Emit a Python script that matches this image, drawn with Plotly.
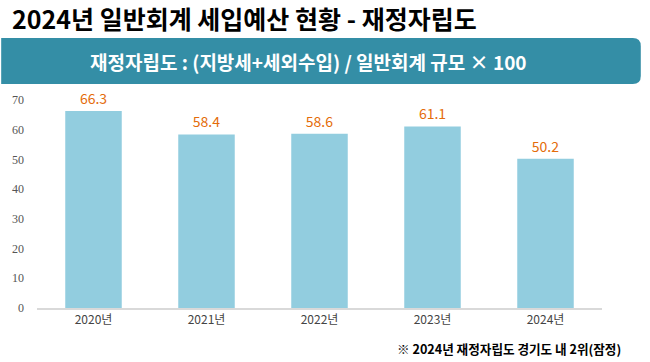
import plotly.graph_objects as go

categories = ["2020년", "2021년", "2022년", "2023년", "2024년"]
values = [66.3, 58.4, 58.6, 61.1, 50.2]
y_ticks = [0, 10, 20, 30, 40, 50, 60, 70]

W, H = 650, 362
L, R, T, B = 34, 48, 100, 54
pw = W - L - R
ph = H - T - B

def px(x):
    return (x - L) / pw

def py(y):
    return (H - B - y) / ph

fig = go.Figure()
fig.add_trace(go.Bar(
    x=categories, y=values,
    marker=dict(color="#92CDDF", line=dict(width=0)),
    text=[f"{v:.1f}" for v in values],
    textposition="outside",
    textfont=dict(color="#E46C0A", size=14, family="Noto Sans CJK KR"),
    cliponaxis=False,
    hoverinfo="skip",
))

# banner with rounded right corners
x0, x1, y0, y1 = px(-2), px(641), py(38), py(84)
rx, ry = 8 / pw, 8 / ph
path = (f"M {x0},{y0} L {x1-rx},{y0} Q {x1},{y0} {x1},{y0-ry} "
        f"L {x1},{y1+ry} Q {x1},{y1} {x1-rx},{y1} L {x0},{y1} Z")
fig.add_shape(type="path", path=path, xref="paper", yref="paper",
              fillcolor="#348EA6", line=dict(width=0), layer="below")

fig.add_annotation(text="<b>재정자립도 : (지방세+세외수입) / 일반회계 규모 × 100</b>",
                   x=px(307), y=py(61), xref="paper", yref="paper",
                   showarrow=False, xanchor="center", yanchor="middle",
                   font=dict(color="white", size=19, family="Noto Sans CJK KR"))
fig.add_annotation(text="<b>2024년 일반회계 세입예산 현황 - 재정자립도</b>",
                   x=px(7), y=py(18), xref="paper", yref="paper",
                   showarrow=False, xanchor="left", yanchor="middle",
                   font=dict(color="black", size=25, family="Noto Sans CJK KR"))
fig.add_annotation(text="<b>※ 2024년 재정자립도 경기도 내 2위(잠정)</b>",
                   x=px(623), y=py(348), xref="paper", yref="paper",
                   showarrow=False, xanchor="right", yanchor="middle",
                   font=dict(color="black", size=12.6, family="Noto Sans CJK KR"))

fig.update_layout(
    width=W, height=H,
    margin=dict(l=L, r=R, t=T, b=B),
    paper_bgcolor="white", plot_bgcolor="white",
    bargap=0.5,
    showlegend=False,
    xaxis=dict(showgrid=False, showline=True, linecolor="#D9D9D9", linewidth=1.5,
               ticks="", tickfont=dict(size=12, color="#444", family="Noto Sans CJK KR")),
    yaxis=dict(range=[0, 70], tickvals=y_ticks, showgrid=False, zeroline=False,
               showline=False, ticks="", ticklabelstandoff=12,
               tickfont=dict(size=12, color="#555", family="Liberation Serif")),
)

fig.write_html("out.html", config={"displayModeBar": False},
               post_script="document.body.style.margin='0';")
